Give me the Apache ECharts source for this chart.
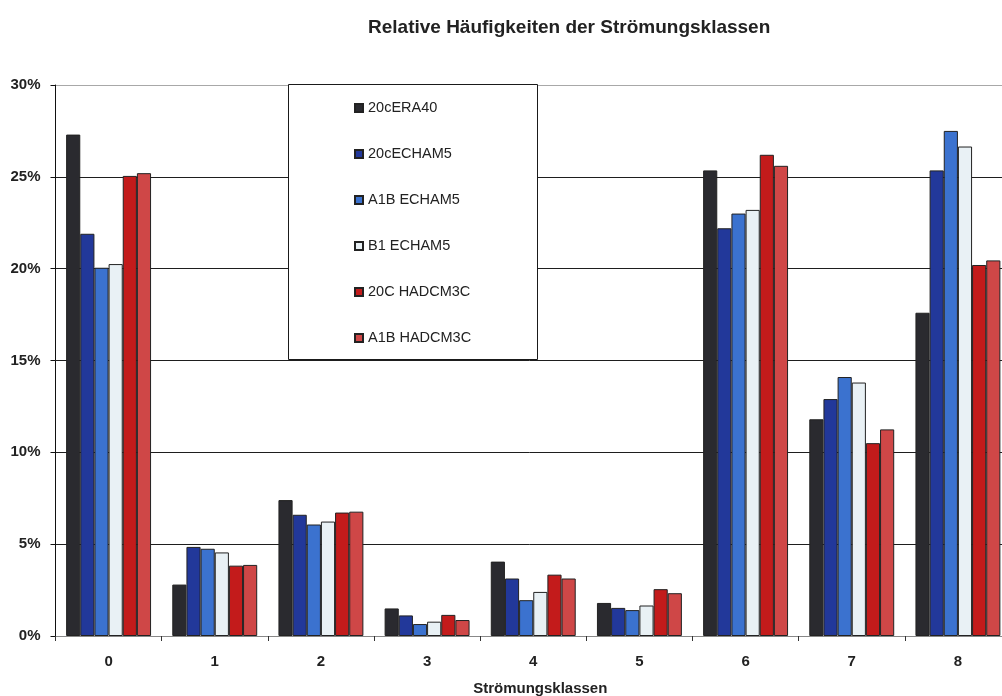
<!DOCTYPE html>
<html>
<head>
<meta charset="utf-8">
<script src="https://cdn.jsdelivr.net/npm/echarts@6/dist/echarts.min.js"></script>
<style>
  html, body { margin: 0; padding: 0; background: #ffffff; }
  #chart { width: 1002px; height: 696px; }
</style>
</head>
<body>
<div id="chart"></div>
<script>
// Strömungsklassen 0–8 and relative frequencies (%) per data set
const categories = ['0', '1', '2', '3', '4', '5', '6', '7', '8'];
const seriesNames = ['20cERA40', '20cECHAM5', 'A1B ECHAM5', 'B1 ECHAM5', '20C HADCM3C', 'A1B HADCM3C'];
const era40     = [27.3, 2.8, 7.4, 1.5, 4.05, 1.8, 25.35, 11.8, 17.6];
const echam20c  = [21.9, 4.85, 6.6, 1.12, 3.13, 1.53, 22.2, 12.9, 25.35];
const a1bEcham  = [20.05, 4.75, 6.07, 0.65, 1.95, 1.41, 23.0, 14.1, 27.5];
const b1Echam   = [20.25, 4.55, 6.23, 0.78, 2.4, 1.66, 23.2, 13.8, 26.65];
const had20c    = [25.05, 3.83, 6.72, 1.15, 3.34, 2.55, 26.2, 10.5, 20.2];
const a1bHad    = [25.2, 3.87, 6.77, 0.87, 3.13, 2.33, 25.6, 11.25, 20.45];
const yTicks = { min: 0, max: 30, interval: 5 };

const seriesData = [era40, echam20c, a1bEcham, b1Echam, had20c, a1bHad];
const colors = ['#2a2a2f', '#22389a', '#3b72cf', '#e9f1f5', '#c31b1b', '#cf4747'];
const font = 'Arial, "Liberation Sans", sans-serif';

const chart = echarts.init(document.getElementById('chart'), null, { renderer: 'canvas' });

chart.setOption({
  animation: false,
  backgroundColor: '#ffffff',
  title: {
    text: 'Relative Häufigkeiten der Strömungsklassen',
    left: 368,
    top: 18,
    padding: 0,
    textStyle: { fontFamily: font, fontSize: 19, fontWeight: 'bold', color: '#222' }
  },
  graphic: [{
    // frame behind the legend entries
    type: 'rect',
    z: 3,
    shape: { x: 288.5, y: 84.5, width: 249, height: 275 },
    style: { fill: '#ffffff', stroke: '#1a1a1a', lineWidth: 1 }
  }],
  legend: {
    orient: 'vertical',
    left: 354,
    top: 100,
    padding: 0,
    itemGap: 30,
    itemWidth: 8,
    itemHeight: 8,
    icon: 'rect',
    z: 5,
    data: seriesNames,
    textStyle: { fontFamily: font, fontSize: 14.5, lineHeight: 16, color: '#222' }
  },
  // the plot area runs slightly past the right edge of the page
  grid: { left: 55.5, width: 955.5, top: 85, bottom: 60, containLabel: false, outerBoundsMode: 'none' },
  xAxis: {
    type: 'category',
    data: categories,
    name: 'Strömungsklassen',
    nameLocation: 'middle',
    nameGap: 45,
    nameTextStyle: { fontFamily: font, fontSize: 15, fontWeight: 'bold', color: '#222', padding: [0, 0, 0, 14] },
    axisLine: { lineStyle: { color: '#888', width: 1 } },
    axisTick: { show: true, alignWithLabel: false, length: 5, inside: false, lineStyle: { color: '#333' } },
    axisLabel: { fontFamily: font, fontSize: 15, fontWeight: 'bold', color: '#222', margin: 18 },
    splitLine: { show: false }
  },
  yAxis: {
    type: 'value',
    min: yTicks.min,
    max: yTicks.max,
    interval: yTicks.interval,
    axisLine: { show: true, lineStyle: { color: '#111', width: 1 } },
    axisTick: { show: true, length: 5, lineStyle: { color: '#111' } },
    axisLabel: { fontFamily: font, fontSize: 15, fontWeight: 'bold', color: '#222', margin: 15, formatter: '{value}%' },
    splitLine: {
      show: true,
      lineStyle: { color: ['#888', '#1e1e1e', '#1e1e1e', '#1e1e1e', '#1e1e1e', '#1e1e1e', '#a8a8a8'], width: 1 }
    }
  },
  series: seriesNames.map((name, i) => ({
    name: name,
    type: 'bar',
    data: seriesData[i],
    barGap: '0%',
    barCategoryGap: '20%',
    itemStyle: { color: colors[i], borderColor: '#222', borderWidth: 1 }
  }))
});
</script>
</body>
</html>
